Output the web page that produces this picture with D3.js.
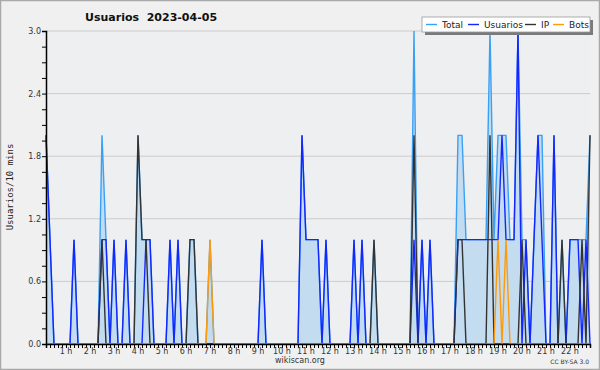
<!DOCTYPE html>
<html>
<head>
<meta charset="utf-8">
<script src="https://cdn.jsdelivr.net/npm/d3@7"></script>
<style>
body{margin:0;background:#f0f0f0;}
text{font-family:"DejaVu Sans",sans-serif;}
</style>
</head>
<body>
<svg></svg>
<script>
// one point every 10 minutes, first at 00:10
var hourLabels = d3.range(1,23);
var yTicks = [0,0.6,1.2,1.8,2.4,3.0];

var usuarios = [2,1,0,0,0,0,0,1,0,0,
                0,0,0,0,1,1,0,1,0,0,
                1,0,0,0,0,1,1,0,0,0,
                0,1,0,1,0,0,0,0,0,0,
                0,0,0,0,0,0,0,0,0,0,
                0,0,0,0,1,0,0,0,0,0,
                0,0,0,0,2,1,1,1,1,0,
                1,0,0,0,0,0,0,1,0,1,
                0,0,0,0,0,0,0,0,0,0,
                0,0,1,0,1,0,1,0,0,0,
                0,0,0,1,1,1,1,1,1,1,
                1,1,1,1,2,1,1,1,3,0,
                1,0,1,2,1,0,0,2,0,0,
                0,1,1,1,0,1,0];
var ip =       [0,0,0,0,0,0,0,0,0,0,
                0,0,0,0,1,0,0,0,0,0,
                0,0,0,2,1,1,0,0,0,0,
                0,0,0,0,0,0,1,1,0,0,
                0,0,0,0,0,0,0,0,0,0,
                0,0,0,0,0,0,0,0,0,0,
                0,0,0,0,0,0,0,0,0,0,
                0,0,0,0,0,0,0,0,0,0,
                0,0,1,0,0,0,0,0,0,0,
                0,0,2,0,0,0,0,0,0,0,
                0,0,0,1,1,0,0,0,0,0,
                0,2,0,0,0,0,0,0,0,1,
                0,0,0,0,0,0,0,0,0,1,
                0,0,0,0,1,0,2];
var bots =     [0,0,0,0,0,0,0,0,0,0,
                0,0,0,0,0,0,0,0,0,0,
                0,0,0,0,0,0,0,0,0,0,
                0,0,0,0,0,0,0,0,0,0,
                0,1,0,0,0,0,0,0,0,0,
                0,0,0,0,0,0,0,0,0,0,
                0,0,0,0,0,0,0,0,0,0,
                0,0,0,0,0,0,0,0,0,0,
                0,0,0,0,0,0,0,0,0,0,
                0,0,0,0,0,0,0,0,0,0,
                0,0,0,0,0,0,0,0,0,0,
                0,0,0,1,0,1,0,0,0,0,
                0,0,0,0,0,0,0,0,0,0,
                0,0,0,0,0,0,0];
var total =    [2,1,0,0,0,0,0,1,0,0,
                0,0,0,0,2,1,0,1,0,0,
                1,0,0,2,1,1,1,0,0,0,
                0,1,0,1,0,0,1,1,0,0,
                0,1,0,0,0,0,0,0,0,0,
                0,0,0,0,1,0,0,0,0,0,
                0,0,0,0,2,1,1,1,1,0,
                1,0,0,0,0,0,0,1,0,1,
                0,0,1,0,0,0,0,0,0,0,
                0,0,3,0,1,0,1,0,0,0,
                0,0,0,2,2,1,1,1,1,1,
                1,3,1,2,2,2,1,1,3,1,
                1,0,1,2,2,0,0,2,0,1,
                0,1,1,1,1,1,2];

var width = 600, height = 370;
var x0 = 46, x1 = 590, y0 = 344, y1 = 31;

var svg = d3.select("svg").attr("width",width).attr("height",height);

svg.append("rect")
   .attr("x",0.5).attr("y",0.5)
   .attr("width",width-1).attr("height",height-1)
   .attr("fill","#f0f0f0").attr("stroke","#a9a9a9").attr("stroke-width",1.5);

svg.append("rect")
   .attr("x",x0).attr("y",y1)
   .attr("width",x1-x0).attr("height",y0-y1)
   .attr("fill","#eeeff1");

var x = d3.scaleLinear().domain([0,usuarios.length-1]).range([x0,x1]);
var y = d3.scaleLinear().domain([0,3]).range([y0,y1]);

// grid
svg.selectAll("line.grid")
   .data(yTicks.slice(1))
   .enter()
   .append("line")
   .attr("class","grid")
   .attr("x1",x0).attr("x2",x1)
   .attr("y1",function(d){return y(d);})
   .attr("y2",function(d){return y(d);})
   .attr("stroke","#cccccc").attr("stroke-width",1);

var idx = d3.range(usuarios.length);

// area under total
var area = d3.area()
   .x(function(i){return x(i);})
   .y0(y(0))
   .y1(function(i){return y(total[i]);});
svg.append("path")
   .datum(idx)
   .attr("d",area)
   .attr("fill","#c4dcf0");

function drawLine(values,color){
  var line = d3.line()
     .x(function(i){return x(i);})
     .y(function(i){return y(values[i]);});
  svg.append("path")
     .datum(idx)
     .attr("d",line)
     .attr("fill","none")
     .attr("stroke",color)
     .attr("stroke-width",1.4)
     .attr("stroke-linejoin","miter");
}
drawLine(total,"#39a0f5");
drawLine(usuarios,"#1326ff");
drawLine(ip,"#333333");
drawLine(bots,"#ff9a0a");

// x axis
var xAxis = d3.axisBottom(x)
   .tickValues(idx)
   .tickSize(4)
   .tickFormat("");
var gx = svg.append("g")
   .attr("transform","translate(0,"+y0+")")
   .call(xAxis);
gx.select(".domain").attr("stroke","#000").attr("stroke-width",1.5);
gx.selectAll(".tick line").attr("stroke","#000");

svg.selectAll("text.hour")
   .data(hourLabels)
   .enter()
   .append("text")
   .attr("class","hour")
   .text(function(d){return d+" h";})
   .attr("x",function(d){return x(6*d-1);})
   .attr("y",354)
   .attr("text-anchor","middle")
   .attr("font-size","8px")
   .attr("fill","#333");

// y axis
var yAxis = d3.axisLeft(y)
   .tickValues(d3.range(0,3.01,0.15))
   .tickSize(4)
   .tickFormat("");
var gy = svg.append("g")
   .attr("transform","translate("+x0+",0)")
   .call(yAxis);
gy.select(".domain").attr("stroke","#000").attr("stroke-width",1.5);
gy.selectAll(".tick line").attr("stroke","#000");

svg.selectAll("text.ylab")
   .data(yTicks)
   .enter()
   .append("text")
   .attr("class","ylab")
   .text(function(d){return d3.format(".1f")(d);})
   .attr("x",41)
   .attr("y",function(d){return y(d)+3;})
   .attr("text-anchor","end")
   .attr("font-size","8px")
   .attr("fill","#333");

svg.append("text")
   .text("Usuarios/10 mins")
   .attr("transform","translate(13,187) rotate(-90)")
   .attr("text-anchor","middle")
   .style("font-family","'DejaVu Sans Mono',monospace")
   .attr("font-size","9px")
   .attr("fill","#222");

// title
svg.append("text")
   .text("Usuarios  2023-04-05")
   .style("white-space","pre")
   .attr("x",85).attr("y",21)
   .attr("font-size","11px")
   .attr("font-weight","bold")
   .attr("fill","#111");

// legend
var legend = [
  {name:"Total",color:"#39a0f5",x:426},
  {name:"Usuarios",color:"#1326ff",x:468},
  {name:"IP",color:"#333333",x:525},
  {name:"Bots",color:"#ff9a0a",x:553}
];
svg.append("rect").attr("x",425).attr("y",20).attr("width",168).attr("height",15).attr("fill","#7a7a7a");
svg.append("rect").attr("x",422).attr("y",17).attr("width",168).attr("height",15)
   .attr("fill","#fff").attr("stroke","#999").attr("stroke-width",0.8);
svg.selectAll("line.leg")
   .data(legend)
   .enter()
   .append("line")
   .attr("x1",function(d){return d.x;})
   .attr("x2",function(d){return d.x+11;})
   .attr("y1",24.5).attr("y2",24.5)
   .attr("stroke",function(d){return d.color;})
   .attr("stroke-width",1.4);
svg.selectAll("text.leg")
   .data(legend)
   .enter()
   .append("text")
   .text(function(d){return d.name;})
   .attr("x",function(d){return d.x+16;})
   .attr("y",28)
   .attr("font-size","9px")
   .attr("fill","#222");

svg.append("text")
   .text("wikiscan.org")
   .attr("x",300).attr("y",363)
   .attr("text-anchor","middle")
   .attr("font-size","8px")
   .attr("fill","#333");

svg.append("text")
   .text("CC BY-SA 3.0")
   .attr("x",589).attr("y",364)
   .attr("text-anchor","end")
   .attr("font-size","6px")
   .attr("fill","#333");
</script>
</body>
</html>
